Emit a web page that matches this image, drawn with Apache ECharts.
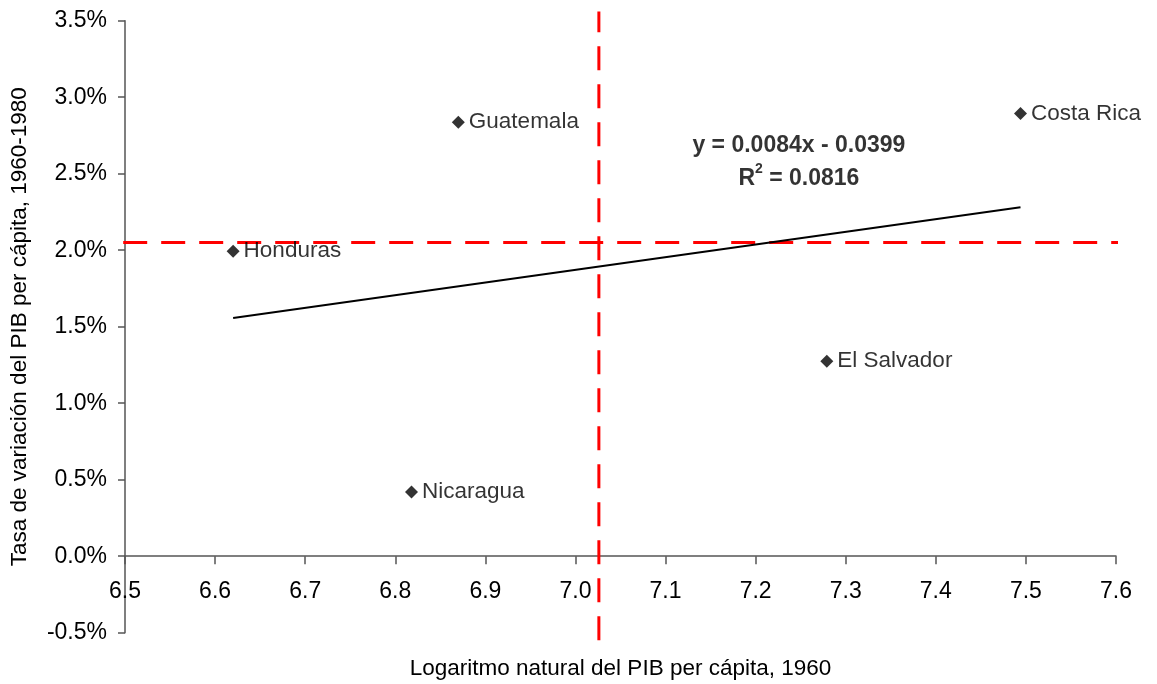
<!DOCTYPE html>
<html>
<head>
<meta charset="utf-8">
<script src="https://cdn.jsdelivr.net/npm/echarts@6/dist/echarts.min.js"></script>
<style>
html,body{margin:0;padding:0;background:#fff;}
#chart{width:1157px;height:684px;}
</style>
</head>
<body>
<div id="chart"></div>
<script>
// ---- data ----
const countries = ['Guatemala', 'Costa Rica', 'Honduras', 'El Salvador', 'Nicaragua'];
const logGdp1960 = [6.870, 7.494, 6.620, 7.279, 6.818];
const growth6080 = [0.02837, 0.02893, 0.01993, 0.01275, 0.00420];
const trendX = [6.620, 7.494];
const trendY = [0.01557, 0.02281];
const refX = 7.026;          // vertical dashed reference (mean log GDP)
const refY = 0.0205;         // horizontal dashed reference (mean growth)
const refXSpan = [6.498, 7.61];
const refYSpan = [-0.0055, 0.0356];
const eqLine1 = 'y = 0.0084x - 0.0399';
const eqLine2a = 'R';
const eqLine2sup = '2';
const eqLine2b = ' = 0.0816';
const xTicks = { min: 6.5, max: 7.6, interval: 0.1 };
const yTicks = { min: -0.005, max: 0.035, interval: 0.005 };
const xTitle = 'Logaritmo natural del PIB per cápita, 1960';
const yTitle = 'Tasa de variación del PIB per cápita, 1960-1980';

const FONT = '"Liberation Sans", Arial, sans-serif';
const chart = echarts.init(document.getElementById('chart'), null, {renderer: 'canvas'});

const pts = countries.map((c, i) => ({ name: c, value: [logGdp1960[i], growth6080[i]] }));

const GRID_TOP = 20.7, GRID_BOTTOM = 51.3;
const gridH = 684 - GRID_TOP - GRID_BOTTOM;
// x axis drawn where y = 0
const zeroOffset = -gridH * (0 - yTicks.min) / (yTicks.max - yTicks.min);

const option = {
  backgroundColor: '#ffffff',
  animation: false,
  textStyle: { fontFamily: FONT },
  grid: { left: 125, right: 41, top: GRID_TOP, bottom: GRID_BOTTOM, containLabel: false, outerBoundsMode: 'none' },
  xAxis: {
    type: 'value', position: 'bottom', offset: zeroOffset,
    min: xTicks.min, max: xTicks.max, interval: xTicks.interval,
    axisLine: { show: true, onZero: false, lineStyle: { color: '#555', width: 1.5 } },
    axisTick: { show: true, inside: false, length: 8, lineStyle: { color: '#555', width: 1.5 } },
    axisLabel: { margin: 24, color: '#000', fontSize: 23, fontFamily: FONT,
      formatter: v => v.toFixed(1) },
    splitLine: { show: false },
    name: xTitle, nameLocation: 'middle', nameGap: 101,
    nameTextStyle: { color: '#000', fontSize: 22.5, fontFamily: FONT }
  },
  yAxis: {
    type: 'value',
    min: yTicks.min, max: yTicks.max, interval: yTicks.interval,
    axisLine: { show: true, onZero: false, lineStyle: { color: '#555', width: 1.5 } },
    axisTick: { show: true, inside: false, length: 7, lineStyle: { color: '#555', width: 1.5 } },
    axisLabel: { margin: 18, color: '#000', fontSize: 23, fontFamily: FONT,
      formatter: v => (v * 100).toFixed(1) + '%' },
    splitLine: { show: false },
    name: yTitle, nameLocation: 'middle', nameGap: 94,
    nameTextStyle: { color: '#000', fontSize: 22.5, fontFamily: FONT }
  },
  series: [
    {
      name: 'refV', type: 'line', clip: false, symbol: 'none', silent: true,
      data: [[refX, refYSpan[0]], [refX, refYSpan[1]]],
      lineStyle: { color: '#ff0000', width: 3, type: [24, 14] }, z: 1
    },
    {
      name: 'refH', type: 'line', clip: false, symbol: 'none', silent: true,
      data: [[refXSpan[0], refY], [refXSpan[1], refY]],
      lineStyle: { color: '#ff0000', width: 3, type: [24, 14] }, z: 1
    },
    {
      name: 'trend', type: 'line', symbol: 'none', silent: true,
      data: trendX.map((x, i) => [x, trendY[i]]),
      lineStyle: { color: '#000', width: 2 }, z: 2
    },
    {
      name: 'countries', type: 'scatter', symbol: 'diamond', symbolSize: 13,
      itemStyle: { color: '#000' },
      data: pts,
      label: { show: true, position: 'right', distance: 4, formatter: '{b}',
        color: '#000', fontSize: 22.5, fontFamily: FONT },
      z: 3
    },
    {
      name: 'equation', type: 'scatter', symbolSize: 0, silent: true,
      data: [[7.248, 0.02575]],
      label: {
        show: true, position: 'inside',
        formatter: '{b|' + eqLine1 + '}\n{b|' + eqLine2a + '}{s|' + eqLine2sup + '}{b|' + eqLine2b + '}',
        rich: {
          b: { fontWeight: 'bold', fontSize: 23, lineHeight: 33, color: '#000', fontFamily: FONT },
          s: { fontWeight: 'bold', fontSize: 14, lineHeight: 20, verticalAlign: 'top', color: '#000', fontFamily: FONT }
        }
      },
      z: 4
    }
  ]
};
chart.setOption(option);
</script>
</body>
</html>
